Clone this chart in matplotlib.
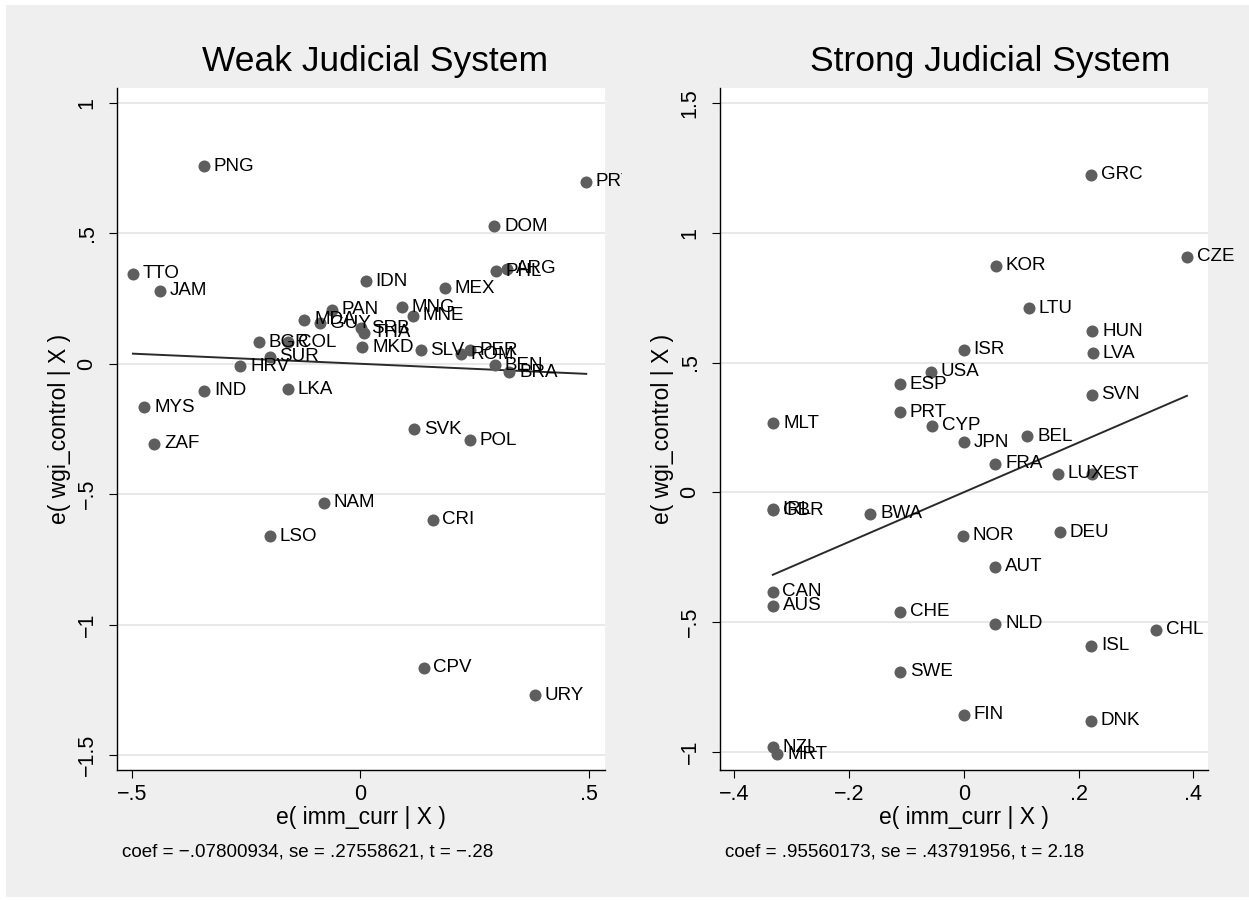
import matplotlib
matplotlib.use("Agg")
import matplotlib.pyplot as plt
from matplotlib.patches import Rectangle
from matplotlib.transforms import Bbox, TransformedBbox
import numpy as np

plt.rcParams['font.family'] = ['Liberation Sans', 'DejaVu Sans']

# --- data: weak judicial system ---
weak_codes = ['PNG', 'PRY', 'DOM', 'TTO', 'JAM', 'IDN', 'MEX', 'PHL', 'ARG', 'PAN',
              'MNG', 'MNE', 'MDA', 'GUY', 'SRB', 'THA', 'BGR', 'COL', 'MKD', 'SLV',
              'PER', 'ROM', 'BEN', 'BRA', 'SUR', 'HRV', 'IND', 'LKA', 'MYS', 'ZAF',
              'SVK', 'POL', 'NAM', 'CRI', 'LSO', 'CPV', 'URY']
weak_x = [-0.343, 0.494, 0.293, -0.498, -0.438, 0.012, 0.184, 0.296, 0.320, -0.063,
          0.090, 0.115, -0.123, -0.088, 0.002, 0.007, -0.222, -0.159, 0.004, 0.132,
          0.240, 0.220, 0.294, 0.326, -0.199, -0.263, -0.342, -0.159, -0.473, -0.451,
          0.118, 0.239, -0.080, 0.158, -0.198, 0.138, 0.381]
weak_y = [0.757, 0.698, 0.528, 0.346, 0.281, 0.316, 0.290, 0.354, 0.364, 0.208,
          0.216, 0.185, 0.168, 0.156, 0.137, 0.120, 0.083, 0.083, 0.063, 0.052,
          0.051, 0.036, -0.006, -0.032, 0.027, -0.010, -0.104, -0.097, -0.166, -0.307,
          -0.250, -0.293, -0.532, -0.598, -0.662, -1.166, -1.270]
weak_coef, weak_cons = -0.07800934, 0.0
weak_note = "coef = \u2212.07800934, se = .27558621, t = \u2212.28"

# --- data: strong judicial system ---
strong_codes = ['GRC', 'CZE', 'KOR', 'LTU', 'HUN', 'ISR', 'LVA', 'USA', 'ESP', 'SVN',
                'PRT', 'MLT', 'CYP', 'JPN', 'BEL', 'FRA', 'LUX', 'EST', 'IRL', 'GBR',
                'BWA', 'NOR', 'DEU', 'AUT', 'CAN', 'AUS', 'CHE', 'NLD', 'CHL', 'ISL',
                'SWE', 'FIN', 'DNK', 'NZL', 'MRT']
strong_x = [0.222, 0.389, 0.056, 0.114, 0.224, 0.000, 0.225, -0.057, -0.111, 0.223,
            -0.111, -0.332, -0.055, 0.000, 0.111, 0.055, 0.164, 0.224, -0.333, -0.332,
            -0.163, -0.002, 0.167, 0.055, -0.333, -0.333, -0.111, 0.055, 0.335, 0.222,
            -0.111, 0.000, 0.221, -0.333, -0.325]
strong_y = [1.224, 0.908, 0.873, 0.709, 0.621, 0.550, 0.536, 0.465, 0.417, 0.375,
            0.309, 0.265, 0.257, 0.193, 0.216, 0.109, 0.072, 0.070, -0.066, -0.069,
            -0.083, -0.167, -0.155, -0.288, -0.383, -0.437, -0.461, -0.506, -0.529, -0.592,
            -0.691, -0.858, -0.880, -0.983, -1.010]
strong_coef, strong_cons = 0.95560173, 0.0
strong_note = "coef = .95560173, se = .43791956, t = 2.18"

weak_xticks = [-0.5, 0, 0.5]
weak_xlabels = ['\u2212.5', '0', '.5']
weak_yticks = [1, 0.5, 0, -0.5, -1, -1.5]
weak_ylabels = ['1', '.5', '0', '\u2212.5', '\u22121', '\u22121.5']
strong_xticks = [-0.4, -0.2, 0, 0.2, 0.4]
strong_xlabels = ['\u2212.4', '\u2212.2', '0', '.2', '.4']
strong_yticks = [1.5, 1, 0.5, 0, -0.5, -1]
strong_ylabels = ['1.5', '1', '.5', '0', '\u2212.5', '\u22121']

W, H = 1249, 900
fig = plt.figure(figsize=(W / 100, H / 100), dpi=100, facecolor='white')
fig.patches.append(Rectangle((6 / W, 3 / H), 1 - 6 / W, 892 / H, transform=fig.transFigure,
                             facecolor='#efefef', edgecolor='none', zorder=-10))


def panel(left_px, xlim, ylim, codes, xs, ys, coef, cons, xt, xl, yt, yl,
          title, title_x, note, clip_right):
    ax = fig.add_axes([left_px / W, 130 / H, 488 / W, 682 / H])
    ax.set_facecolor('white')
    ax.set_xlim(*xlim)
    ax.set_ylim(*ylim)
    for s in ['top', 'right']:
        ax.spines[s].set_visible(False)
    for s in ['left', 'bottom']:
        ax.spines[s].set_linewidth(1.0)
    ax.set_xticks(xt)
    ax.set_xticklabels(xl, fontsize=15.5)
    ax.set_yticks(yt)
    ax.set_yticklabels(yl, fontsize=15.5, rotation=90, va='center')
    ax.tick_params(direction='out', length=6, width=0.8)
    ax.tick_params(axis='x', pad=4)
    ax.tick_params(axis='y', pad=8)
    ax.grid(axis='y', color='#e6e6e6', linewidth=1.3)
    ax.set_axisbelow(True)
    ax.set_xlabel('e( imm_curr | X )', fontsize=16.5, labelpad=1)
    ax.set_ylabel('e( wgi_control | X )', fontsize=16.5, labelpad=4)

    ax.scatter(xs, ys, s=75, color='#5e5e5e', zorder=3, linewidths=0)
    clipbox = TransformedBbox(Bbox([[left_px / W - 0.1, 0], [clip_right / W, 1]]),
                              fig.transFigure)
    for c, x, y in zip(codes, xs, ys):
        t = ax.annotate(c, (x, y), xytext=(7, 0), textcoords='offset points',
                        fontsize=13.5, va='center', ha='left', color='black',
                        annotation_clip=False, zorder=4)
        t.set_clip_on(True)
        t.set_clip_box(clipbox)

    x0, x1 = min(xs), max(xs)
    ax.plot([x0, x1], [cons + coef * x0, cons + coef * x1], color='#2a2a2a',
            linewidth=1.4, zorder=2)

    fig.text(title_x / W, 1 - 62 / H, title, fontsize=25.5, ha='center', va='center')
    fig.text((left_px + 5) / W, 1 - 852 / H, note, fontsize=13.5, ha='left', va='center')
    return ax


panel(117, (-0.5328, 0.535), (-1.5575, 1.0575), weak_codes, weak_x, weak_y,
      weak_coef, weak_cons, weak_xticks, weak_xlabels, weak_yticks, weak_ylabels,
      'Weak Judicial System', 375, weak_note, 622)
panel(720, (-0.425, 0.4257), (-1.0705, 1.558), strong_codes, strong_x, strong_y,
      strong_coef, strong_cons, strong_xticks, strong_xlabels, strong_yticks, strong_ylabels,
      'Strong Judicial System', 990, strong_note, 1249)

fig.savefig('out.png', dpi=100, facecolor='white')
